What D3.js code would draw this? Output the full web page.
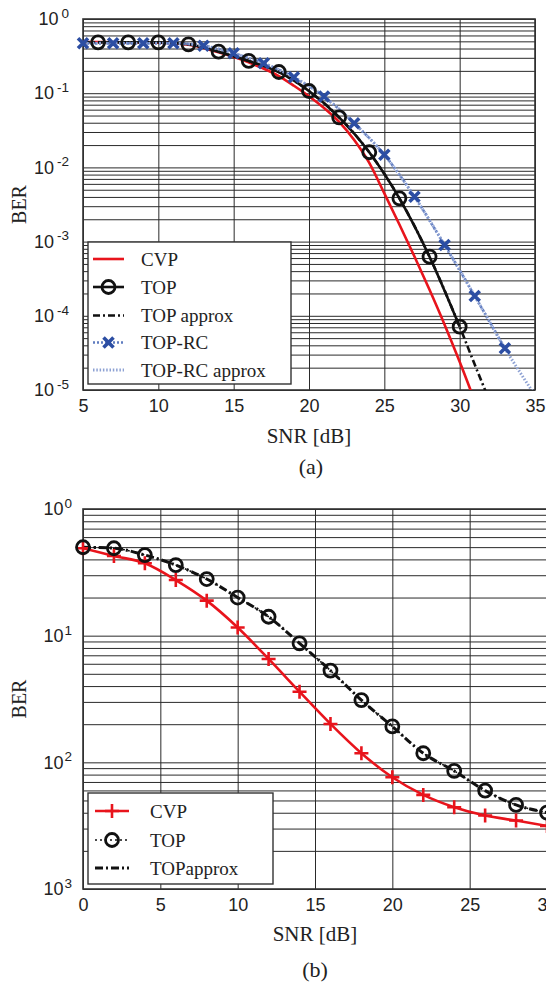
<!DOCTYPE html>
<html>
<head>
<meta charset="utf-8">
<script src="https://cdn.jsdelivr.net/npm/d3@7"></script>
<style>
body { margin: 0; background: #fff; }
svg { display: block; }
</style>
</head>
<body>
<div id="chart"></div>
<script>
// ---- panel (a) data ----
var snrTicksA = [5, 10, 15, 20, 25, 30, 35];
var berExpA = ["0", "-1", "-2", "-3", "-4", "-5"];

var cvpSnrA = [5, 6, 8, 10, 12, 14, 16, 18, 19, 20, 21, 22, 23, 24, 25, 26, 27, 28, 29, 30, 31];
var cvpBerA = [0.49, 0.49, 0.485, 0.48, 0.45, 0.355, 0.26, 0.17, 0.126, 0.091, 0.063, 0.041, 0.0234, 0.0115, 0.00447, 0.0017, 6.3e-4, 2.24e-4, 7.6e-5, 2.4e-5, 7.1e-6];

var topSnrA = [6, 8, 10, 12, 14, 16, 18, 20, 22, 24, 26, 28, 30];
var topBerA = [0.485, 0.485, 0.485, 0.456, 0.363, 0.272, 0.193, 0.107, 0.0473, 0.016, 0.00383, 6.26e-4, 7.13e-5];

var topApproxSnrA = [5, 6, 8, 10, 12, 14, 16, 18, 20, 22, 24, 26, 28, 30, 31, 32];
var topApproxBerA = [0.485, 0.485, 0.485, 0.485, 0.456, 0.363, 0.272, 0.193, 0.107, 0.0473, 0.016, 0.00383, 6.26e-4, 7.13e-5, 2.2e-5, 7.0e-6];

var rcSnrA = [5, 7, 9, 11, 13, 15, 17, 19, 21, 23, 25, 27, 29, 31, 33];
var rcBerA = [0.47, 0.47, 0.47, 0.47, 0.437, 0.345, 0.253, 0.164, 0.09, 0.0393, 0.0148, 0.00403, 9.0e-4, 1.85e-4, 3.65e-5];

var rcApproxSnrA = [5, 7, 9, 11, 13, 15, 17, 19, 21, 23, 25, 27, 29, 31, 33, 35];
var rcApproxBerA = [0.47, 0.47, 0.47, 0.47, 0.437, 0.345, 0.253, 0.164, 0.09, 0.0393, 0.0148, 0.00403, 9.0e-4, 1.85e-4, 3.65e-5, 8.5e-6];

// ---- panel (b) data ----
var snrTicksB = [0, 5, 10, 15, 20, 25, 30];
var berExpB = ["0", "1", "2", "3"];   // labels as printed

var snrB = [0, 2, 4, 6, 8, 10, 12, 14, 16, 18, 20, 22, 24, 26, 28, 30];
var cvpBerB = [0.49, 0.426, 0.373, 0.275, 0.189, 0.116, 0.0655, 0.0361, 0.0201, 0.0118, 0.00762, 0.00553, 0.00442, 0.0038, 0.00347, 0.00315];
var topBerB = [0.499, 0.49, 0.433, 0.361, 0.28, 0.2, 0.141, 0.087, 0.053, 0.031, 0.0192, 0.0118, 0.00855, 0.00598, 0.00461, 0.00401];
var topApproxBerB = [0.499, 0.49, 0.433, 0.361, 0.28, 0.2, 0.141, 0.087, 0.053, 0.031, 0.0192, 0.0118, 0.00855, 0.00598, 0.00461, 0.00401];

var RED = "#e8141c", BLUE = "#2c4ea3", LIGHTBLUE = "#8da1d3";
var SANS = "'Liberation Sans', Arial, sans-serif";
var SERIF = "'Liberation Serif', 'Times New Roman', serif";

var svg = d3.select("#chart").append("svg")
    .attr("width", 546)
    .attr("height", 983);

function zip(xs, ys) {
  return xs.map(function(x, i) { return {x: x, y: ys[i]}; });
}

// markers
function marker(g, type, cx, cy, color) {
  if (type == "circle") {
    g.append("circle").attr("cx", cx).attr("cy", cy).attr("r", 6.5)
      .attr("fill", "none").attr("stroke", color).attr("stroke-width", 2.8);
  } else if (type == "cross") {
    var s = 5;
    g.append("path")
      .attr("d", "M" + (cx - s) + "," + (cy - s) + "L" + (cx + s) + "," + (cy + s) +
                 "M" + (cx - s) + "," + (cy + s) + "L" + (cx + s) + "," + (cy - s))
      .attr("stroke", color).attr("stroke-width", 3.6).attr("fill", "none");
  } else if (type == "plus") {
    var p = 7;
    g.append("path")
      .attr("d", "M" + (cx - p) + "," + cy + "L" + (cx + p) + "," + cy +
                 "M" + cx + "," + (cy - p) + "L" + cx + "," + (cy + p))
      .attr("stroke", color).attr("stroke-width", 2.6).attr("fill", "none");
  }
}

function drawPanel(cfg) {
  var x = d3.scaleLinear().domain(cfg.xDomain).range([cfg.left, cfg.right]);
  var y = d3.scaleLog().domain(cfg.yDomain).range([cfg.bottom, cfg.top]);
  var g = svg.append("g");
  var w = cfg.right - cfg.left, h = cfg.bottom - cfg.top;

  // minor + major horizontal grid (every 1..9 per decade)
  g.append("g")
      .attr("transform", "translate(" + cfg.left + ",0)")
      .call(d3.axisLeft(y).tickValues(y.ticks()).tickSize(-w).tickFormat(""))
      .call(function(a) { a.select(".domain").remove(); })
      .selectAll("line").attr("stroke", "#2a2a2a").attr("stroke-width", 1);

  // vertical grid at major ticks
  g.append("g")
      .attr("transform", "translate(0," + cfg.bottom + ")")
      .call(d3.axisBottom(x).tickValues(cfg.xTicks).tickSize(-h).tickFormat(""))
      .call(function(a) { a.select(".domain").remove(); })
      .selectAll("line").attr("stroke", "#2a2a2a").attr("stroke-width", 1);

  g.append("rect")
      .attr("x", cfg.left).attr("y", cfg.top).attr("width", w).attr("height", h)
      .attr("fill", "none").attr("stroke", "#333").attr("stroke-width", 1.6);

  // x tick labels
  var xa = g.append("g")
      .attr("transform", "translate(0," + cfg.bottom + ")")
      .call(d3.axisBottom(x).tickValues(cfg.xTicks).tickSize(0).tickPadding(9));
  xa.select(".domain").remove();
  xa.selectAll("text").attr("font-family", SANS).attr("font-size", 18).attr("fill", "#222");

  // y tick labels 10^k
  var decades = d3.range(0, cfg.expLabels.length).map(function(i) { return Math.pow(10, -i); });
  var ya = g.append("g")
      .attr("transform", "translate(" + cfg.left + ",0)")
      .call(d3.axisLeft(y).tickValues(decades).tickSize(0).tickPadding(cfg.yPad).tickFormat(""));
  ya.select(".domain").remove();
  ya.selectAll("text").each(function(d, i) {
    var t = d3.select(this).attr("font-family", SANS).attr("font-size", 18).attr("fill", "#222");
    t.append("tspan").text("10");
    t.append("tspan").attr("font-size", 13.5).attr("dx", cfg.supGap).attr("dy", "-0.55em").text(cfg.expLabels[i]);
  });

  // axis titles
  g.append("text")
      .attr("x", (cfg.left + cfg.right) / 2).attr("y", cfg.xTitleY)
      .attr("text-anchor", "middle").attr("font-family", SERIF).attr("font-size", 21).attr("fill", "#222")
      .text("SNR [dB]");
  g.append("text")
      .attr("transform", "translate(26," + ((cfg.top + cfg.bottom) / 2) + ") rotate(-90)")
      .attr("text-anchor", "middle").attr("font-family", SERIF).attr("font-size", 20).attr("fill", "#222")
      .text("BER");
  g.append("text")
      .attr("x", cfg.capX).attr("y", cfg.capY)
      .attr("text-anchor", "middle").attr("font-family", SERIF).attr("font-size", 22).attr("fill", "#222")
      .text(cfg.caption);

  // data
  var clipId = "clip" + cfg.caption.replace(/\W/g, "");
  svg.append("clipPath").attr("id", clipId).append("rect")
      .attr("x", cfg.left).attr("y", cfg.top).attr("width", w).attr("height", h);
  var plot = g.append("g").attr("clip-path", "url(#" + clipId + ")");

  var line = d3.line()
      .x(function(d) { return x(d.x); })
      .y(function(d) { return y(d.y); })
      .curve(d3.curveMonotoneX);

  cfg.series.forEach(function(s) {
    plot.append("path")
        .datum(zip(s.xs, s.ys))
        .attr("d", line)
        .attr("fill", "none")
        .attr("stroke", s.color)
        .attr("stroke-width", s.width)
        .attr("stroke-dasharray", s.dash || null);
  });
  cfg.series.forEach(function(s) {
    if (!s.marker) return;
    var mg = g.append("g");
    zip(s.xs, s.ys).forEach(function(d) {
      marker(mg, s.marker, x(d.x), y(d.y), s.mcolor || s.color);
    });
  });

  // legend
  var L = cfg.legend;
  g.append("rect")
      .attr("x", L.x0).attr("y", L.y0).attr("width", L.x1 - L.x0).attr("height", L.y1 - L.y0)
      .attr("fill", "#fff").attr("stroke", "#333").attr("stroke-width", 1.4);
  cfg.series.forEach(function(s, i) {
    var ly = L.rows[i];
    g.append("line")
        .attr("x1", L.s0).attr("x2", L.s1).attr("y1", ly).attr("y2", ly)
        .attr("stroke", s.color).attr("stroke-width", s.width)
        .attr("stroke-dasharray", s.dash || null);
    if (s.marker) marker(g, s.marker, (L.s0 + L.s1) / 2, ly, s.mcolor || s.color);
    g.append("text")
        .attr("x", L.tx).attr("y", ly + 6.5)
        .attr("font-family", SERIF).attr("font-size", 19).attr("fill", "#222")
        .text(s.name);
  });
}

drawPanel({
  left: 83, right: 535, top: 19, bottom: 390,
  xDomain: [5, 35], yDomain: [1e-5, 1],
  xTicks: snrTicksA, expLabels: berExpA, yPad: 14, supGap: 3,
  xTitleY: 443, caption: "(a)", capX: 311, capY: 474,
  series: [
    {name: "CVP", xs: cvpSnrA, ys: cvpBerA, color: RED, width: 2.6},
    {name: "TOP", xs: topSnrA, ys: topBerA, color: "#111", width: 2.6, marker: "circle"},
    {name: "TOP approx", xs: topApproxSnrA, ys: topApproxBerA, color: "#111", width: 2.6, dash: "7,3,2,3"},
    {name: "TOP-RC", xs: rcSnrA, ys: rcBerA, color: "#5f7cc0", width: 2.6, dash: "2,2", marker: "cross", mcolor: BLUE},
    {name: "TOP-RC approx", xs: rcApproxSnrA, ys: rcApproxBerA, color: LIGHTBLUE, width: 3, dash: "1.5,1.8"}
  ],
  legend: {x0: 88, x1: 291, y0: 242, y1: 384, s0: 93, s1: 124, tx: 141,
           rows: [259, 287, 315.5, 342.5, 370]}
});

drawPanel({
  left: 83, right: 547, top: 509, bottom: 889,
  xDomain: [0, 30], yDomain: [1e-3, 1],
  xTicks: snrTicksB, expLabels: berExpB, yPad: 11, supGap: 1,
  xTitleY: 941, caption: "(b)", capX: 315, capY: 977,
  series: [
    {name: "CVP", xs: snrB, ys: cvpBerB, color: RED, width: 2.6, marker: "plus"},
    {name: "TOP", xs: snrB, ys: topBerB, color: "#111", width: 1.6, dash: "2,3", marker: "circle"},
    {name: "TOPapprox", xs: snrB, ys: topApproxBerB, color: "#111", width: 3, dash: "8,3,2,3"}
  ],
  legend: {x0: 88, x1: 273, y0: 793, y1: 884, s0: 95, s1: 129, tx: 150,
           rows: [811, 840, 868]}
});
</script>
</body>
</html>
